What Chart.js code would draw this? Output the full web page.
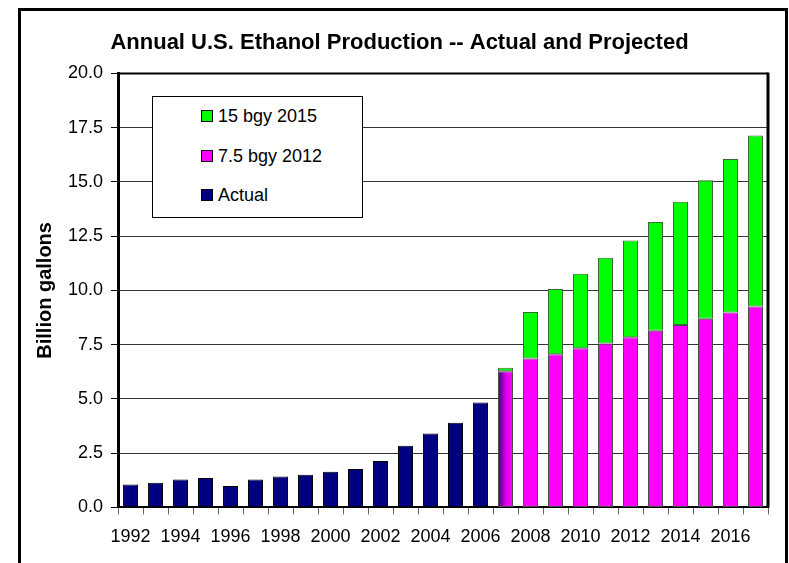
<!DOCTYPE html>
<html>
<head>
<meta charset="utf-8">
<script src="https://cdn.jsdelivr.net/npm/chart.js@4.4.1/dist/chart.umd.min.js"></script>
<style>
  body { margin: 0; background: #fff; font-family: 'Liberation Sans', Arial, sans-serif; overflow: hidden; }
  #wrap { position: relative; width: 789px; height: 563px; }
  #frame { position: absolute; left: 18px; top: 8px; width: 764px; height: 600px; border: 3px solid #000; pointer-events: none; }
  #legend { position: absolute; left: 152px; top: 96px; width: 211px; height: 122px; box-sizing: border-box; border: 1px solid #000; background: #fff; }
  .row { position: absolute; left: 48px; height: 22px; display: flex; align-items: center; font-size: 18px; color: #000; white-space: nowrap; }
  .sw { width: 10px; height: 10px; border: 1px solid #000; margin-right: 5px; }
</style>
</head>
<body>
<div id="wrap">
  <canvas id="ethanolChart" width="789" height="563"></canvas>
  <div id="frame"></div>
  <div id="legend"></div>
</div>
<script>
const years = ['1992', '1993', '1994', '1995', '1996', '1997', '1998', '1999', '2000', '2001', '2002', '2003', '2004',
  '2005', '2006', '2007', '2008', '2009', '2010', '2011', '2012', '2013', '2014', '2015', '2016', '2017'];

const actual = [1.06, 1.14, 1.28, 1.36, 0.99, 1.28, 1.42, 1.50, 1.64, 1.77, 2.14, 2.84, 3.41, 3.90, 4.83,
  null, null, null, null, null, null, null, null, null, null, null];

const bgy75 = [null, null, null, null, null, null, null, null, null, null, null, null, null, null, null,
  6.27, 6.86, 7.06, 7.33, 7.55, 7.84, 8.14, 8.41, 8.69, 8.98, 9.26];

// extra on top of the 7.5 bgy path
const bgy15 = [null, null, null, null, null, null, null, null, null, null, null, null, null, null, null,
  0.17, 2.14, 3.00, 3.44, 3.95, 4.46, 5.01, 5.68, 6.39, 7.08, 7.88];

const yTicks = [0, 2.5, 5, 7.5, 10, 12.5, 15, 17.5, 20];

const legendItems = [
  { text: '15 bgy 2015', color: '#00ff00', top: 8 },
  { text: '7.5 bgy 2012', color: '#ff00ff', top: 48 },
  { text: 'Actual', color: '#000080', top: 87 },
];

const FONT = "'Liberation Sans', Arial, sans-serif";
const BAR_PCT = 0.6;

// first projected year blends from actual into the projection
const blendIndex = years.indexOf('2007');

const magentaFill = (context) => {
  const { chart, dataIndex } = context;
  const xs = chart.scales.x;
  if (dataIndex !== blendIndex || !xs || !chart.chartArea) return '#ff00ff';
  const centre = xs.getPixelForValue(dataIndex);
  const half = (xs.width / years.length) * BAR_PCT / 2;
  const grad = chart.ctx.createLinearGradient(centre - half, 0, centre + half, 0);
  grad.addColorStop(0, '#3c0078');
  grad.addColorStop(0.55, '#e000f0');
  grad.addColorStop(1, '#ff00ff');
  return grad;
};

const plotBorder = {
  id: 'plotBorder',
  afterDraw(chart) {
    const { ctx, chartArea: a } = chart;
    ctx.save();
    ctx.strokeStyle = '#000';
    ctx.lineWidth = 2;
    ctx.beginPath();
    ctx.moveTo(a.left, a.top);
    ctx.lineTo(a.right, a.top);
    ctx.stroke();
    ctx.lineWidth = 3;
    ctx.beginPath();
    ctx.moveTo(a.right, a.top - 1);
    ctx.lineTo(a.right, a.bottom);
    ctx.stroke();
    ctx.restore();
  },
};

const renderLegend = () => {
  const box = document.getElementById('legend');
  legendItems.forEach((item) => {
    const row = document.createElement('div');
    row.className = 'row';
    row.style.top = `${item.top}px`;
    row.innerHTML = `<span class="sw" style="background:${item.color}"></span><span>${item.text}</span>`;
    box.appendChild(row);
  });
};

const renderChart = () => {
  const ctx = document.getElementById('ethanolChart');

  new Chart(ctx, {
    type: 'bar',
    data: {
      labels: years,
      datasets: [
        {
          label: 'Actual',
          data: actual,
          backgroundColor: '#000080',
          borderColor: '#000',
          borderWidth: 1,
        },
        {
          label: '7.5 bgy 2012',
          data: bgy75,
          backgroundColor: magentaFill,
          borderColor: '#4a4a4a',
          borderWidth: 1,
        },
        {
          label: '15 bgy 2015',
          data: bgy15,
          backgroundColor: '#00ff00',
          borderColor: '#3a6a3a',
          borderWidth: 1,
        },
      ],
    },
    options: {
      responsive: false,
      animation: false,
      devicePixelRatio: 1,
      datasets: {
        bar: {
          barPercentage: BAR_PCT,
          categoryPercentage: 1,
          borderSkipped: false,
        },
      },
      layout: {
        padding: { left: 26, right: 16, top: 11, bottom: 3 },
      },
      scales: {
        x: {
          stacked: true,
          grid: {
            offset: true,
            drawOnChartArea: false,
            tickLength: 7,
            color: '#666',
          },
          border: { color: '#000', width: 2 },
          ticks: {
            autoSkip: false,
            maxRotation: 0,
            padding: 12,
            color: '#000',
            font: { family: FONT, size: 18 },
            callback: (value, index) => (index % 2 === 0 ? years[index] : ''),
          },
        },
        y: {
          stacked: true,
          min: 0,
          max: 20,
          afterBuildTicks: (scale) => {
            scale.ticks = yTicks.map((v) => ({ value: v }));
          },
          grid: {
            color: '#333',
            lineWidth: 1,
            tickLength: 7,
            tickColor: '#000',
          },
          border: { color: '#000', width: 3 },
          ticks: {
            padding: 8,
            color: '#000',
            font: { family: FONT, size: 18 },
            callback: (value) => Number(value).toFixed(1),
          },
          title: {
            display: true,
            text: 'Billion gallons',
            color: '#000',
            font: { family: FONT, size: 20, weight: 'bold' },
            padding: { top: 7.5, bottom: 2.5 },
          },
        },
        // empty right-hand strip so the title centres on the whole frame
        gap: {
          position: 'right',
          display: true,
          grid: { display: false },
          border: { display: false },
          ticks: { display: false },
          afterFit: (scale) => {
            scale.width = 5;
          },
        },
      },
      plugins: {
        legend: { display: false },
        tooltip: { enabled: false },
        title: {
          display: true,
          text: 'Annual U.S. Ethanol Production -- Actual and Projected',
          color: '#000',
          font: { family: FONT, size: 22, weight: 'bold' },
          padding: { top: 19, bottom: 17 },
        },
      },
    },
    plugins: [plotBorder],
  });
};

renderLegend();
renderChart();
</script>
</body>
</html>
